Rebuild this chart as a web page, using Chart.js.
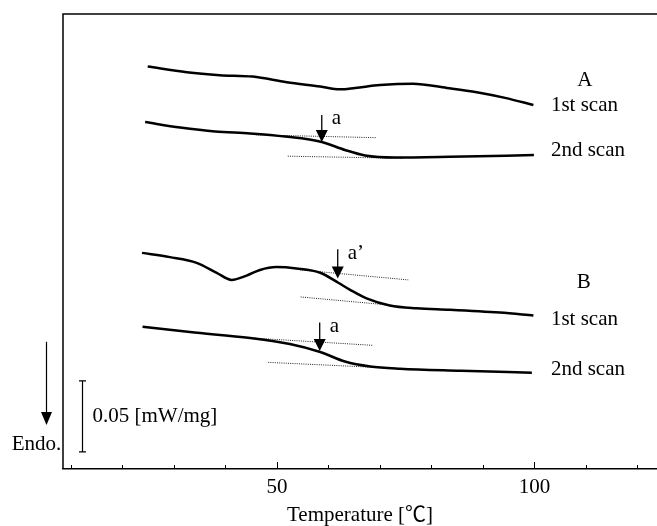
<!DOCTYPE html>
<html>
<head>
<meta charset="utf-8">
<script src="https://cdn.jsdelivr.net/npm/chart.js@4/dist/chart.umd.min.js"></script>
<style>
  html, body { margin: 0; padding: 0; background: #fff; }
</style>
</head>
<body>
<canvas id="dsc" width="657" height="526"></canvas>
<script>
// Temperature [°C] and heat flow [mW/mg]
const tempA1 = [24.9, 32.5, 38.9, 45.3, 51.9, 58.4, 62.2, 65.2, 70.0, 76.4, 83.0, 88.8, 94.3, 99.8];
const flowA1 = [0.283, 0.279, 0.277, 0.276, 0.272, 0.269, 0.267, 0.268, 0.270, 0.271, 0.268, 0.265, 0.261, 0.256];

const tempA2 = [24.4, 31.2, 38.0, 44.8, 51.6, 58.7, 63.2, 67.1, 72.9, 83.6, 99.9];
const flowA2 = [0.244, 0.2402, 0.2374, 0.236, 0.2338, 0.230, 0.2244, 0.2205, 0.2191, 0.2196, 0.2208];

const tempB1 = [23.8, 29.2, 34.4, 38.3, 41.2, 44.1, 46.7, 49.9, 53.8, 58.4, 61.9, 64.2, 67.4, 71.9, 77.1, 83.6, 93.3, 99.8];
const flowB1 = [0.152, 0.149, 0.145, 0.138, 0.133, 0.136, 0.140, 0.142, 0.141, 0.138, 0.131, 0.126, 0.120, 0.115, 0.113, 0.112, 0.110, 0.108];

const tempB2 = [23.9, 33.1, 44.8, 52.5, 58.4, 63.2, 68.1, 73.9, 85.7, 99.5];
const flowB2 = [0.1001, 0.0963, 0.0921, 0.0879, 0.0823, 0.0756, 0.0721, 0.0705, 0.0691, 0.0677];

// dotted baselines: [start, end]
const baseTemps = [[45.9, 69.4], [52.1, 74.5], [54.5, 75.5], [54.6, 72.7], [45.7, 68.5], [48.3, 71.9]];
const baseFlows = [[0.235, 0.233], [0.220, 0.2185], [0.140, 0.133], [0.121, 0.115], [0.092, 0.087], [0.075, 0.071]];

// Tg arrows
const arrowTemps = [58.7, 61.8, 58.3];
const arrowTops = [0.249, 0.1545, 0.103];
const arrowTips = [0.230, 0.134, 0.083];
const arrowLabels = ['a', 'a\u2019', 'a'];

// curve labels on the right
const sampleNames = ['A', 'B'];
const sampleTemps = [109.8, 109.6];
const sampleFlows = [0.273, 0.131];
const scanNames = ['1st scan', '2nd scan', '1st scan', '2nd scan'];
const scanFlows = [0.256, 0.224, 0.1055, 0.070];
const scanTemp = 103.2;

const tempTicks = [10, 20, 30, 40, 50, 60, 70, 80, 90, 100, 110, 120];
const labeledTicks = [50, 100];

// scale bar and endotherm marker
const barTemp = 12.2;
const barFlows = [0.012, 0.062];
const barText = '0.05 [mW/mg]';
const endoTemp = 5.1;
const endoFlows = [0.0895, 0.031];

const serif = '"Liberation Serif", "Times New Roman", serif';

function curve(label, xs, ys) {
  return {
    label,
    data: xs.map((x, i) => ({ x, y: ys[i] })),
    borderColor: '#000',
    borderWidth: 2.5,
    cubicInterpolationMode: 'monotone',
    pointRadius: 0,
    fill: false,
  };
}

const datasets = [
  curve('A 1st', tempA1, flowA1),
  curve('A 2nd', tempA2, flowA2),
  curve('B 1st', tempB1, flowB1),
  curve('B 2nd', tempB2, flowB2),
];
baseTemps.forEach((t, i) => {
  datasets.push({
    label: 'base' + i,
    data: t.map((x, j) => ({ x, y: baseFlows[i][j] })),
    borderColor: '#222',
    borderWidth: 1,
    borderDash: [1, 1.2],
    pointRadius: 0,
    tension: 0,
    fill: false,
  });
});

function arrow(ctx, x, yTop, yTip, head) {
  ctx.beginPath();
  ctx.moveTo(x, yTop);
  ctx.lineTo(x, yTip - head.h + 1);
  ctx.stroke();
  ctx.beginPath();
  ctx.moveTo(x - head.w / 2, yTip - head.h);
  ctx.lineTo(x + head.w / 2, yTip - head.h);
  ctx.lineTo(x, yTip);
  ctx.closePath();
  ctx.fill();
}

const framePlugin = {
  id: 'frame',
  afterDraw(chart) {
    const { ctx, chartArea } = chart;
    const xs = chart.scales.x;
    ctx.save();
    ctx.strokeStyle = '#000';
    ctx.lineWidth = 1.5;
    ctx.beginPath();
    ctx.moveTo(chartArea.left, chartArea.bottom);
    ctx.lineTo(chartArea.left, chartArea.top);
    ctx.lineTo(chartArea.right, chartArea.top);
    ctx.stroke();
    // inward tick marks
    ctx.lineWidth = 1;
    tempTicks.forEach((v) => {
      const px = Math.round(xs.getPixelForValue(v)) + 0.5;
      const len = labeledTicks.includes(v) ? 7 : 4;
      ctx.beginPath();
      ctx.moveTo(px, chartArea.bottom);
      ctx.lineTo(px, chartArea.bottom - len);
      ctx.stroke();
    });
    ctx.restore();
  },
};

const marksPlugin = {
  id: 'marks',
  afterDatasetsDraw(chart) {
    const { ctx } = chart;
    const xs = chart.scales.x;
    const ys = chart.scales.y;
    ctx.save();
    ctx.fillStyle = '#000';
    ctx.strokeStyle = '#000';
    ctx.font = '21px ' + serif;

    // Tg arrows
    ctx.lineWidth = 1.3;
    arrowTemps.forEach((t, i) => {
      const x = xs.getPixelForValue(t);
      arrow(ctx, x, ys.getPixelForValue(arrowTops[i]), ys.getPixelForValue(arrowTips[i]), { w: 12, h: 12 });
      ctx.textAlign = 'left';
      ctx.textBaseline = 'middle';
      ctx.fillText(arrowLabels[i], x + 10, ys.getPixelForValue(arrowTops[i]) + 4);
    });

    // sample and scan labels
    ctx.textAlign = 'center';
    ctx.textBaseline = 'middle';
    sampleNames.forEach((n, i) => {
      ctx.fillText(n, xs.getPixelForValue(sampleTemps[i]), ys.getPixelForValue(sampleFlows[i]));
    });
    ctx.textAlign = 'left';
    scanNames.forEach((n, i) => {
      ctx.fillText(n, xs.getPixelForValue(scanTemp), ys.getPixelForValue(scanFlows[i]));
    });

    // scale bar
    const bx = Math.round(xs.getPixelForValue(barTemp)) + 0.5;
    const b0 = ys.getPixelForValue(barFlows[0]);
    const b1 = ys.getPixelForValue(barFlows[1]);
    ctx.lineWidth = 1.2;
    ctx.beginPath();
    ctx.moveTo(bx, b0);
    ctx.lineTo(bx, b1);
    ctx.moveTo(bx - 3.5, b0);
    ctx.lineTo(bx + 3.5, b0);
    ctx.moveTo(bx - 3.5, b1);
    ctx.lineTo(bx + 3.5, b1);
    ctx.stroke();
    ctx.fillText(barText, bx + 10, (b0 + b1) / 2);

    // endotherm direction
    const ex = Math.round(xs.getPixelForValue(endoTemp)) + 0.5;
    const eTip = ys.getPixelForValue(endoFlows[1]);
    arrow(ctx, ex, ys.getPixelForValue(endoFlows[0]), eTip, { w: 11, h: 13 });
    ctx.textAlign = 'center';
    ctx.fillText('Endo.', ex - 10, eTip + 20);
    ctx.restore();
  },
};

new Chart(document.getElementById('dsc'), {
  type: 'line',
  data: { datasets },
  plugins: [framePlugin, marksPlugin],
  options: {
    responsive: false,
    animation: false,
    layout: { padding: { left: 63, top: 14, right: 0, bottom: 0 } },
    plugins: {
      legend: { display: false },
      tooltip: { enabled: false },
    },
    scales: {
      x: {
        type: 'linear',
        min: 8.45,
        max: 123.8,
        afterBuildTicks: (scale) => {
          scale.ticks = tempTicks.map((v) => ({ value: v }));
        },
        afterFit: (scale) => {
          scale.height = 57;
        },
        ticks: {
          callback: (v) => (labeledTicks.includes(v) ? String(v) : ''),
          color: '#000',
          font: { family: serif, size: 21, lineHeight: 1 },
          padding: 8,
          maxRotation: 0,
          autoSkip: false,
        },
        grid: { display: false, drawTicks: false, tickLength: 0 },
        border: { display: true, color: '#000', width: 1.5 },
        title: {
          display: true,
          text: 'Temperature [\u2103]',
          color: '#000',
          font: { family: serif + ', "Noto Sans CJK JP"', size: 21, lineHeight: 1 },
          padding: { top: 5, bottom: 0 },
        },
      },
      y: { display: false, min: 0, max: 0.32 },
    },
  },
});
</script>
</body>
</html>
